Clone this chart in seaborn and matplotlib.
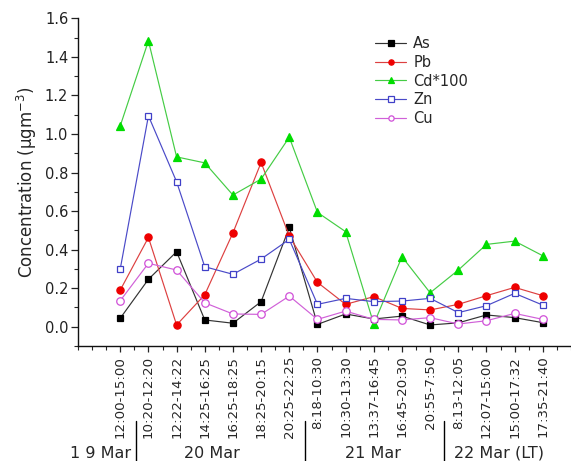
import matplotlib
matplotlib.use("Agg")
import matplotlib.pyplot as plt
import seaborn as sns
import numpy as np
import pandas as pd
from matplotlib.ticker import MultipleLocator
from matplotlib.transforms import blended_transform_factory
from matplotlib.lines import Line2D

periods = ["12:00-15:00", "10:20-12:20", "12:22-14:22", "14:25-16:25", "16:25-18:25",
           "18:25-20:15", "20:25-22:25", "8:18-10:30", "10:30-13:30", "13:37-16:45",
           "16:45-20:30", "20:55-7:50", "8:13-12:05", "12:07-15:00", "15:00-17:32",
           "17:35-21:40"]
As = [0.044, 0.246, 0.389, 0.035, 0.018, 0.13, 0.515, 0.012, 0.066, 0.04, 0.055, 0.009, 0.02, 0.061, 0.047, 0.021]
Pb = [0.19, 0.463, 0.009, 0.166, 0.487, 0.852, 0.47, 0.23, 0.116, 0.156, 0.095, 0.087, 0.116, 0.161, 0.204, 0.161]
Cd100 = [1.042, 1.483, 0.881, 0.85, 0.683, 0.766, 0.983, 0.593, 0.493, 0.014, 0.363, 0.176, 0.294, 0.427, 0.444, 0.368]
Zn = [0.30, 1.094, 0.752, 0.311, 0.272, 0.351, 0.453, 0.116, 0.147, 0.13, 0.133, 0.147, 0.073, 0.109, 0.173, 0.112]
Cu = [0.135, 0.329, 0.294, 0.124, 0.066, 0.064, 0.159, 0.038, 0.081, 0.038, 0.035, 0.047, 0.014, 0.031, 0.069, 0.038]
series_names = ["As", "Pb", "Cd*100", "Zn", "Cu"]
days = ["1 9 Mar", "20 Mar", "21 Mar", "22 Mar (LT)"]
day_centers = [-0.71, 3.26, 8.97, 13.44]
day_separators = [0.55, 6.55, 11.5]

sns.set_style("ticks")
plt.rcParams['font.family'] = ['DejaVu Sans']

fig = plt.figure(figsize=(5.71, 4.61), dpi=100)
ax = fig.add_axes([78/571, 0.2495, 1 - 78/571, 0.7108])

x = np.arange(len(periods))
styles = [
    dict(color="#333333", marker="s", markersize=4.6, markerfacecolor="black", markeredgecolor="black"),
    dict(color="#dd4040", marker="o", markersize=5.2, markerfacecolor="#ee0000", markeredgecolor="#ee0000"),
    dict(color="#44cc44", marker="^", markersize=5.6, markerfacecolor="#00dd00", markeredgecolor="#00dd00"),
    dict(color="#4a4ac8", marker="s", markersize=4.8, markerfacecolor="white", markeredgecolor="#4040c8"),
    dict(color="#d060d8", marker="o", markersize=5.4, markerfacecolor="white", markeredgecolor="#d050d8"),
]
for name, vals, st in zip(series_names, [As, Pb, Cd100, Zn, Cu], styles):
    df = pd.DataFrame({"x": x, "y": vals})
    sns.lineplot(data=df, x="x", y="y", ax=ax, linewidth=0.85, markeredgewidth=0.9,
                 label=name, **st)

ax.set_xlim(-1.5, 16.0)
ax.set_ylim(-0.1, 1.6)
ax.set_xticks(x)
ax.set_xticklabels(periods, rotation=90, fontsize=9.6)
ax.xaxis.set_minor_locator(MultipleLocator(0.5))
ax.yaxis.set_minor_locator(MultipleLocator(0.1))
ax.set_yticks(np.arange(0, 1.61, 0.2))
ax.set_yticklabels([f"{v:.1f}" for v in np.arange(0, 1.61, 0.2)], fontsize=10.5)
ax.tick_params(axis="y", which="major", length=5, width=0.9, direction="out", pad=2, colors="#222222")
ax.tick_params(axis="y", which="minor", length=3, width=0.8, direction="out")
ax.tick_params(axis="x", which="major", length=4, width=0.9, direction="out", pad=3)
ax.tick_params(axis="x", which="minor", length=3, width=0.8, direction="out")
ax.set_xlabel("")
ax.set_ylabel("Concentration (μgm$^{-3}$)", fontsize=12, labelpad=4)
for s in ["top", "right"]:
    ax.spines[s].set_visible(False)
for s in ["left", "bottom"]:
    ax.spines[s].set_linewidth(1.0)
    ax.spines[s].set_color("#111111")

trans = blended_transform_factory(ax.transData, fig.transFigure)
for name, cx in zip(days, day_centers):
    ax.text(cx, 1 - 453/461, name, transform=trans, ha="center", va="center", fontsize=11.5)
for sx in day_separators:
    ax.add_line(Line2D([sx, sx], [0, 1 - 421/461], transform=trans, color="black",
                       linewidth=1.0, clip_on=False))

leg = ax.legend(loc="upper left", bbox_to_anchor=(368/571, 1 - 29/461),
                bbox_transform=fig.transFigure, frameon=False, fontsize=10.5,
                handlelength=2.1, handletextpad=0.5, labelspacing=0.25, borderpad=0)
for h in leg.legend_handles:
    h.set_markersize(3.8)

fig.savefig("out.png", dpi=100)
